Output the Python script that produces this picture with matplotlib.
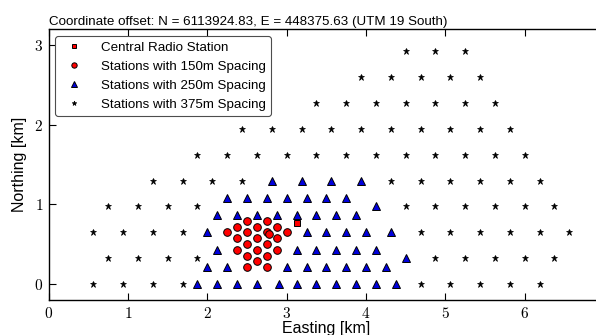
import numpy as np
import matplotlib
matplotlib.use('Agg')
import matplotlib.pyplot as plt
from matplotlib.ticker import FuncFormatter

plt.rcParams['font.family'] = ['Liberation Sans', 'DejaVu Sans']
plt.rcParams['mathtext.fontset'] = 'cm'

# central radio station [km]
central_x = [3.125]
central_y = [0.762]

# 150m stations, by column (x) with their northings
c150_col_x = [2.25, 2.375, 2.5, 2.625, 2.75, 2.875, 3.0, 2.773]
c150_col_y = [[0.649],
              [0.721, 0.576, 0.431],
              [0.792, 0.648, 0.503, 0.358, 0.214],
              [0.721, 0.576, 0.431, 0.287],
              [0.792, 0.648, 0.503, 0.358, 0.214],
              [0.721, 0.576, 0.431],
              [0.649],
              [0.626]]

# 250m stations, by row (y) with their eastings
c250_row_y = [0.0, 0.217, 0.325, 0.432, 0.65, 0.864, 0.975, 1.082, 1.3]
c250_row_x = [[1.875, 2.12, 2.38, 2.625, 2.905, 3.125, 3.375, 3.625, 3.875, 4.125, 4.375],
              [2.0, 2.25, 3.0, 3.25, 3.5, 3.75, 4.0, 4.25],
              [4.5],
              [2.125, 3.125, 3.375, 3.625, 3.875, 4.125],
              [2.0, 3.25, 3.5, 3.75, 4.0, 4.3125],
              [2.125, 2.375, 2.625, 2.875, 3.125, 3.375, 3.625, 3.875],
              [4.125],
              [2.25, 2.5, 2.75, 3.0, 3.25, 3.5, 3.75],
              [2.8125, 3.1875, 3.5625, 3.9375]]

# 375m stations, by row (y) with their eastings
c375_row_y = [0.0, 0.325, 0.65, 0.975, 1.3, 1.625, 1.95, 2.275, 2.6, 2.925]
c375_row_x = [[0.5625, 0.9375, 1.3125, 1.6875, 4.6875, 5.0625, 5.4375, 5.8125, 6.1875],
              [0.75, 1.125, 1.5, 1.875, 4.875, 5.25, 5.625, 6.0, 6.375],
              [0.5625, 0.9375, 1.3125, 1.6875, 4.6875, 5.0625, 5.4375, 5.8125, 6.1875, 6.5625],
              [0.75, 1.125, 1.5, 1.875, 4.5, 4.875, 5.25, 5.625, 6.0, 6.375],
              [1.3125, 1.6875, 2.0625, 2.4375, 4.3125, 4.6875, 5.0625, 5.4375, 5.8125, 6.1875],
              [1.875, 2.25, 2.625, 3.0, 3.375, 3.75, 4.125, 4.5, 4.875, 5.25, 5.625, 6.0],
              [2.4375, 2.8125, 3.1875, 3.5625, 3.9375, 4.3125, 4.6875, 5.0625, 5.4375, 5.8125],
              [3.375, 3.75, 4.125, 4.5, 4.875, 5.25, 5.625],
              [3.9375, 4.3125, 4.6875, 5.0625, 5.4375],
              [4.5, 4.875, 5.25]]

x150 = np.concatenate([[x] * len(ys) for x, ys in zip(c150_col_x, c150_col_y)])
y150 = np.concatenate(c150_col_y)
x250 = np.concatenate(c250_row_x)
y250 = np.concatenate([[y] * len(xs) for y, xs in zip(c250_row_y, c250_row_x)])
x375 = np.concatenate(c375_row_x)
y375 = np.concatenate([[y] * len(xs) for y, xs in zip(c375_row_y, c375_row_x)])

fig = plt.figure(figsize=(5.96, 3.35), dpi=100)
ax = fig.add_axes([0.0817, 0.1045, 0.9317, 0.808])

ax.plot(central_x, central_y, 's', color='red', mec='k', mew=0.7, ms=5,
        label='Central Radio Station', zorder=5)
ax.plot(x150, y150, 'o', color='red', mec='k', mew=0.7, ms=5.5,
        label='Stations with 150m Spacing', zorder=4)
ax.plot(x250, y250, '^', color='#0000dd', mec='k', mew=0.7, ms=5.5,
        label='Stations with 250m Spacing', zorder=3)
ax.plot(x375, y375, '*', color='k', mec='k', mew=0.5, ms=5,
        label='Stations with 375m Spacing', zorder=2)

ax.set_xlim(0, 7)
ax.set_ylim(-0.2, 3.2)
ax.set_xticks(range(0, 7))
ax.set_yticks(range(0, 4))
fmt = FuncFormatter(lambda v, p: r'$%d$' % v)
ax.xaxis.set_major_formatter(fmt)
ax.yaxis.set_major_formatter(fmt)
ax.tick_params(direction='in', top=True, right=True, length=5, width=0.8,
               labelsize=11, pad=4)
for s in ax.spines.values():
    s.set_linewidth(1.0)

ax.set_xlabel('Easting [km]', size=11.5, labelpad=0)
ax.set_ylabel('Northing [km]', size=11.5, labelpad=5)
ax.set_title('Coordinate offset: N = 6113924.83, E = 448375.63 (UTM 19 South)',
             loc='left', size=9.6, pad=3)

leg = ax.legend(loc='upper left', numpoints=1, fontsize=9.6, markerscale=0.7,
                fancybox=True, framealpha=1, edgecolor='0.3',
                borderaxespad=0.5, handletextpad=1.0)
leg.get_frame().set_linewidth(0.8)

fig.savefig('out.png', dpi=100)
